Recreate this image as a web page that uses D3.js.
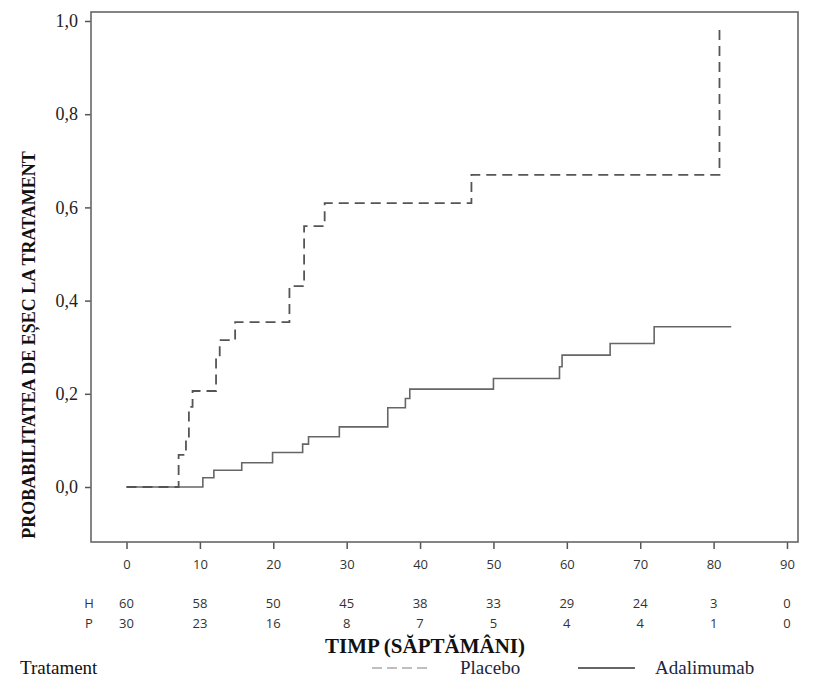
<!DOCTYPE html>
<html>
<head>
<meta charset="utf-8">
<script src="https://cdn.jsdelivr.net/npm/d3@7"></script>
<style>
  body { margin: 0; background: #fff; }
  svg { display: block; }
</style>
</head>
<body>
<div id="graph"></div>
<script>
var width = 820;
var height = 684;

// x ticks (weeks) and patients at risk
var weekTicks = [0, 10, 20, 30, 40, 50, 60, 70, 80, 90];
var atRiskH = [60, 58, 50, 45, 38, 33, 29, 24, 3, 0];
var atRiskP = [30, 23, 16, 8, 7, 5, 4, 4, 1, 0];
var probTicks = [0, 0.2, 0.4, 0.6, 0.8, 1.0];

// placebo step curve
var placeboWeeks = [0, 7.1, 8.1, 8.5, 9.0, 12.2, 12.7, 14.8, 22.2, 24.2, 27.0, 47.0, 80.8];
var placeboProb = [0, 0.069, 0.103, 0.172, 0.206, 0.277, 0.315, 0.354, 0.431, 0.560, 0.609, 0.670, 0.987];

// adalimumab step curve
var adaWeeks = [0, 10.4, 11.9, 15.7, 19.9, 24.0, 24.8, 29.0, 35.6, 38.0, 38.6, 50.0, 59.0, 59.35, 65.9, 71.9, 82.4];
var adaProb = [0, 0.020, 0.036, 0.052, 0.074, 0.092, 0.108, 0.129, 0.170, 0.190, 0.210, 0.233, 0.258, 0.283, 0.308, 0.344, 0.344];

var box = {left: 91, right: 798, top: 12, bottom: 542};

var svg = d3.select('#graph')
    .append('svg')
    .attr('width', width)
    .attr('height', height);

var x = d3.scaleLinear().domain([-4.84, 91.5]).range([box.left, box.right]);
var y = d3.scaleLinear().domain([-0.118, 1.0193]).range([box.bottom, box.top]);

var sans = '"Open Sans", "DejaVu Sans", sans-serif';
var serif = '"Liberation Serif", "Times New Roman", serif';

// x axis
var xAxis = svg.append('g')
    .attr('transform', 'translate(0,' + box.bottom + ')')
    .call(d3.axisBottom(x).tickValues(weekTicks).tickSize(7).tickPadding(11));
xAxis.select('.domain').remove();
xAxis.selectAll('line').attr('stroke', '#555').attr('stroke-width', 1.5);
xAxis.selectAll('text')
    .attr('font-family', sans)
    .attr('font-size', 13)
    .attr('fill', '#333');

// y axis
var yAxis = svg.append('g')
    .attr('transform', 'translate(' + box.left + ',0)')
    .call(d3.axisLeft(y).tickValues(probTicks).tickSize(6).tickPadding(7)
        .tickFormat(function(d) { return d3.format('.1f')(d).replace('.', ','); }));
yAxis.select('.domain').remove();
yAxis.selectAll('line').attr('stroke', '#555').attr('stroke-width', 1.5);
yAxis.selectAll('text')
    .attr('font-family', serif)
    .attr('font-size', 18)
    .attr('fill', '#222');

// frame
svg.append('rect')
    .attr('x', box.left)
    .attr('y', box.top)
    .attr('width', box.right - box.left)
    .attr('height', box.bottom - box.top)
    .attr('fill', 'none')
    .attr('stroke', '#666')
    .attr('stroke-width', 1.6);

var line = d3.line()
    .x(function(d) { return x(d[0]); })
    .y(function(d) { return y(d[1]); })
    .curve(d3.curveStepAfter);

svg.append('path')
    .datum(d3.zip(adaWeeks, adaProb))
    .attr('d', line)
    .attr('fill', 'none')
    .attr('stroke', '#666')
    .attr('stroke-width', 1.6);

svg.append('path')
    .datum(d3.zip(placeboWeeks, placeboProb))
    .attr('d', line)
    .attr('fill', 'none')
    .attr('stroke', '#555')
    .attr('stroke-width', 1.8)
    .attr('stroke-dasharray', '10,6');

// patients at risk
var riskRows = [['H', atRiskH, 608], ['P', atRiskP, 628]];
riskRows.forEach(function(r) {
    svg.append('text')
        .attr('x', 89)
        .attr('y', r[2])
        .attr('text-anchor', 'middle')
        .attr('font-family', sans)
        .attr('font-size', 13)
        .attr('fill', '#333')
        .text(r[0]);
    svg.selectAll(null)
        .data(r[1])
        .enter()
        .append('text')
        .attr('x', function(d, i) { return x(weekTicks[i]); })
        .attr('y', r[2])
        .attr('text-anchor', 'middle')
        .attr('font-family', sans)
        .attr('font-size', 13)
        .attr('fill', '#333')
        .text(function(d) { return d; });
});

// titles
svg.append('text')
    .attr('x', 425)
    .attr('y', 653)
    .attr('text-anchor', 'middle')
    .attr('font-family', serif)
    .attr('font-weight', 'bold')
    .attr('font-size', 21)
    .attr('fill', '#111')
    .text('TIMP (SĂPTĂMÂNI)');

svg.append('text')
    .attr('transform', 'translate(35,345) rotate(-90)')
    .attr('text-anchor', 'middle')
    .attr('font-family', serif)
    .attr('font-weight', 'bold')
    .attr('font-size', 18)
    .attr('fill', '#111')
    .text('PROBABILITATEA DE EȘEC LA TRATAMENT');

// legend
svg.append('text')
    .attr('x', 20)
    .attr('y', 674)
    .attr('font-family', serif)
    .attr('font-size', 19)
    .attr('fill', '#111')
    .text('Tratament');

svg.append('line')
    .attr('x1', 372).attr('x2', 428)
    .attr('y1', 668).attr('y2', 668)
    .attr('stroke', '#aaa')
    .attr('stroke-width', 1.6)
    .attr('stroke-dasharray', '10,5');
svg.append('text')
    .attr('x', 460)
    .attr('y', 674)
    .attr('font-family', serif)
    .attr('font-size', 19)
    .attr('fill', '#1c2640')
    .text('Placebo');

svg.append('line')
    .attr('x1', 578).attr('x2', 635)
    .attr('y1', 668).attr('y2', 668)
    .attr('stroke', '#333')
    .attr('stroke-width', 1.4);
svg.append('text')
    .attr('x', 655)
    .attr('y', 674)
    .attr('font-family', serif)
    .attr('font-size', 19)
    .attr('fill', '#1c2640')
    .text('Adalimumab');
</script>
</body>
</html>
